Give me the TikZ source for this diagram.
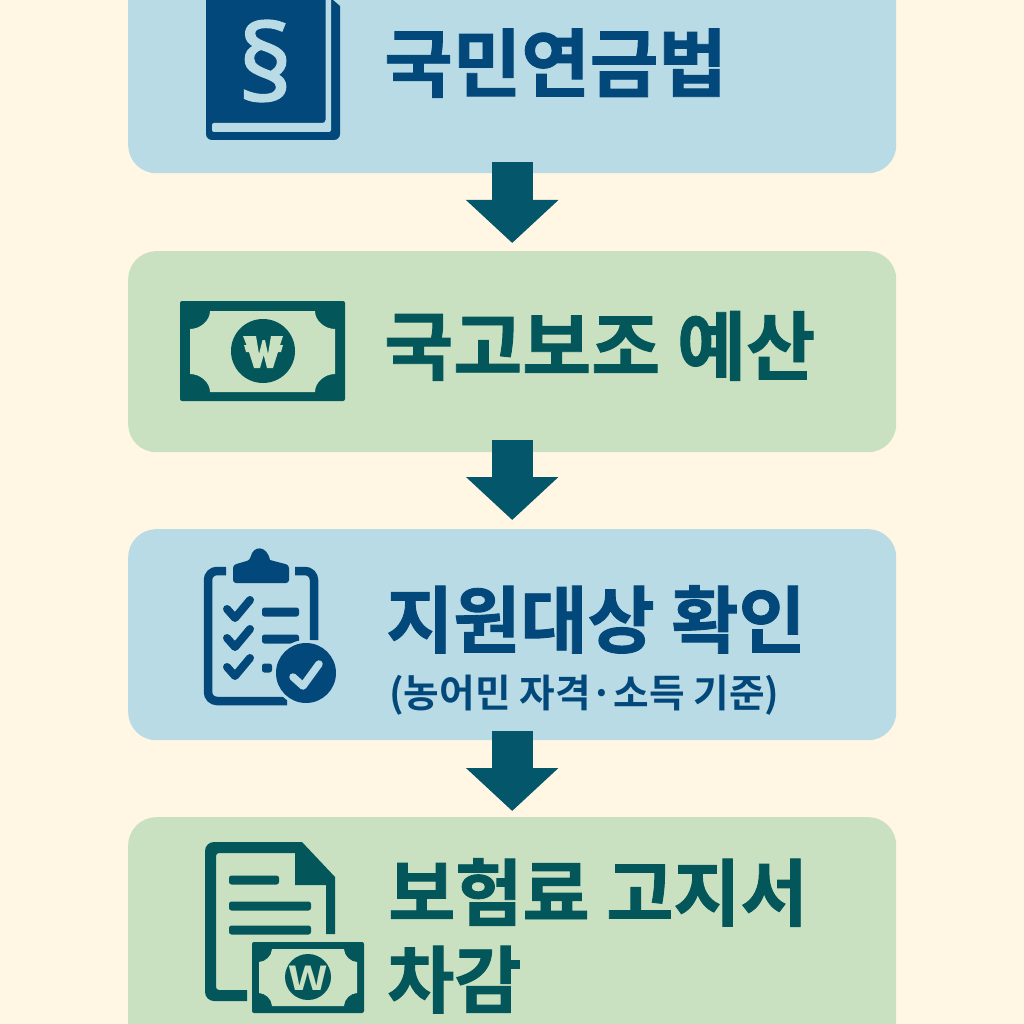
\documentclass[tikz,border=0pt]{standalone}
\usepackage{fontspec}
\usepackage{graphicx}
\usetikzlibrary{arrows.meta}
\newfontfamily\krfont{Noto Sans CJK KR Bold}[RawFeature={embolden=1.2}]
\newfontfamily\krsub{Noto Sans CJK KR Bold}
\newfontfamily\symfont{Noto Sans}[RawFeature={embolden=1.5}]
\definecolor{bgc}{HTML}{FFF7E4}
\definecolor{bluebox}{HTML}{B9DBE5}
\definecolor{greenbox}{HTML}{C9E1C1}
\definecolor{arrowc}{HTML}{04566B}
\definecolor{bluedk}{HTML}{03487A}
\definecolor{greendk}{HTML}{03565A}
\tikzset{
  panel/.style={rounded corners=28pt,minimum width=768pt,draw=none,inner sep=0pt,anchor=north west},
  flow/.style={line width=41pt,color=arrowc,-{Triangle[width=90pt,length=43pt]}},
  title/.style={font=\krfont\fontsize{#1}{#1}\selectfont,anchor=base west,inner sep=0pt},
  subtitle/.style={font=\krsub\fontsize{#1}{#1}\selectfont,anchor=base west,inner sep=0pt},
  bar/.style={rounded corners=2.5pt},
  chk/.style={line width=8pt,line cap=round,line join=round},
}
\begin{document}
\begin{tikzpicture}[x=1pt,y=-1pt]
\useasboundingbox (0,0) rectangle (1024,1024);
\clip (0,0) rectangle (1024,1024);
\fill[bgc] (0,0) rectangle (1024,1024);
\node[panel,fill=bluebox,minimum height=213pt] (p1) at (128,-40) {};
\node[panel,fill=greenbox,minimum height=201pt] (p2) at (128,251) {};
\node[panel,fill=bluebox,minimum height=211pt] (p3) at (128,529) {};
\node[panel,fill=greenbox,minimum height=243pt] (p4) at (128,817) {};
\draw[flow,shorten <=-11pt,shorten >=8pt] (p1.south) -- (p2.north);
\draw[flow,shorten <=-12pt,shorten >=9pt] (p2.south) -- (p3.north);
\draw[flow,shorten <=-9pt,shorten >=6pt] (p3.south) -- (p4.north);
% book
\fill[bluedk] (206,-5) -- (333,-5) -- (333,0) -- (340,6) [rounded corners=6pt] -- (340,140) -- (206,140) [sharp corners] -- cycle;
\fill[bluebox] (325.5,-5) -- (331,-5) [rounded corners=2pt] -- (331,132) -- (212,132) -- (212,123) [rounded corners=3pt] -- (325.5,123) [sharp corners] -- cycle;
\node[font=\symfont\fontsize{106}{106}\selectfont,text=bluebox,inner sep=0pt] (sec) at (265.5,61) {§};
% banknote
\fill[greendk,rounded corners=2pt] (180,301) rectangle (345,401);
\fill[greenbox] (210,311) -- (315,311) .. controls (315,321) and (325,329) .. (335,329) -- (335,374) .. controls (325,374) and (315,382) .. (315,392) -- (210,392) .. controls (210,382) and (200,374) .. (190,374) -- (190,329) .. controls (200,329) and (210,321) .. (210,311) -- cycle;
\fill[greendk] (263,351) circle[radius=32pt];
\fill[greenbox,line join=round] (243,336) -- (256,336) -- (259,354) -- (262.5,340) -- (265,340) -- (268,354) -- (271,336) -- (283,336) -- (280,345) -- (283,345) -- (281,352) -- (278,352) -- (273,368) -- (267,368) -- (263.7,355) -- (260,368) -- (254,368) -- (249,352) -- (246,352) -- (244,345) -- (246.5,345) -- cycle;
% clipboard
\begin{scope}[bluedk]
\draw[line width=8.5pt] (226,571) -- (217,571) [rounded corners=9pt] -- (208,571) -- (208,701) -- (287,701);
\draw[line width=8.5pt] (295,571) [rounded corners=9pt] -- (314,571) -- (314,640);
\fill[rounded corners=3pt] (233,583) -- (233,565) -- (250,560) [sharp corners] .. controls (253,545) and (267,545) .. (270,560) [rounded corners=3pt] -- (289,565) -- (289,583) -- cycle;
\draw[chk] (227,609) -- (235,618) -- (250,600);
\draw[chk] (227,638) -- (235,647) -- (250,629);
\draw[chk] (227,667) -- (235,676) -- (250,658);
\fill[bar] (262,607.5) rectangle (299,616.5);
\fill[bar] (262,634.5) rectangle (299,643.5);
\fill[bar] (262,663.5) rectangle (272,672.5);
\fill[bluebox] (306,673) circle[radius=33pt];
\fill (306,673) circle[radius=30pt];
\draw[bluebox,line width=7.5pt,line cap=round,line join=round] (293,677) -- (303,686) -- (319,664);
\end{scope}
% document
\begin{scope}[greendk]
\fill (247,1001) [rounded corners=9pt] -- (205,1001) -- (205,842) [sharp corners] -- (302,842) -- (335,877) -- (335,934) -- (326,934) -- (326,885) -- (295,885) -- (295,853) [rounded corners=3pt] -- (216,853) -- (216,990) [sharp corners] -- (247,990) -- cycle;
\fill[bar] (229,875.5) rectangle (279,884.5);
\fill[bar] (229,901.5) rectangle (311,910.5);
\fill[bar] (229,925.5) rectangle (311,934.5);
\fill[rounded corners=2pt] (252,942) rectangle (364,1013);
\fill[greenbox] (272,949) -- (344,949) .. controls (344,956) and (351,962) .. (357,962) -- (357,993) .. controls (351,993) and (344,999) .. (344,1006) -- (272,1006) .. controls (272,999) and (265,993) .. (259,993) -- (259,962) .. controls (265,962) and (272,956) .. (272,949) -- cycle;
\fill (308,977) circle[radius=23pt];
\node[font=\krsub\fontsize{33}{33}\selectfont,text=greenbox,inner sep=0pt] (wl) at (308,978) {\scalebox{1.3}[1]{W}};
\end{scope}
% titles
\node[title=74.5,text=bluedk] (t1) at (384,91) {국민연금법};
\node[title=75,text=greendk] (t2) at (384,374) {국고보조 예산};
\node[title=73,text=bluedk] (t3) at (386,647) {지원대상 확인};
\node[subtitle=38.7,text=bluedk] (t3b) at (389,707) {(농어민 자격·소득 기준)};
\node[title=73,text=greendk] (t4) at (388,920) {보험료 고지서};
\node[title=73,text=greendk] (t5) at (387,1007) {차감};
\end{tikzpicture}
\end{document}
